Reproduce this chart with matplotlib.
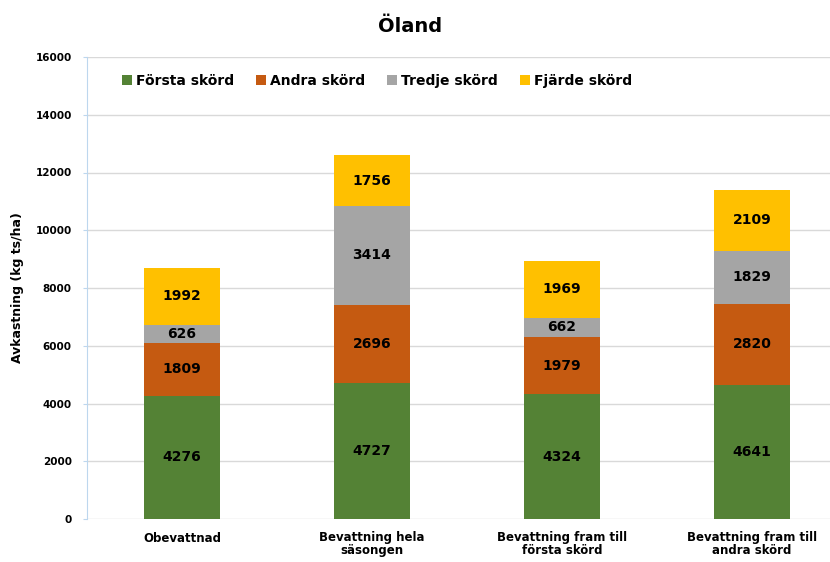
import matplotlib.pyplot as plt
import numpy as np

categories = ["Obevattnad", "Bevattning hela\nsäsongen",
              "Bevattning fram till\nförsta skörd", "Bevattning fram till\nandra skörd"]
series_names = ["Första skörd", "Andra skörd", "Tredje skörd", "Fjärde skörd"]
forsta = [4276, 4727, 4324, 4641]
andra = [1809, 2696, 1979, 2820]
tredje = [626, 3414, 662, 1829]
fjarde = [1992, 1756, 1969, 2109]
colors = ["#548235", "#c55a11", "#a5a5a5", "#ffc000"]
yticks = list(range(0, 16001, 2000))

plt.rcParams['font.family'] = ['DejaVu Sans']
fig = plt.figure(figsize=(8.3, 5.62), dpi=100)
ax = fig.add_axes([87 / 830, 43 / 562, 743 / 830, 462 / 562])

x = np.arange(len(categories))
bottom = np.zeros(len(categories))
for name, vals, col in zip(series_names, [forsta, andra, tredje, fjarde], colors):
    ax.bar(x, vals, width=0.4, bottom=bottom, color=col, label=name, zorder=2)
    for xi, b, v in zip(x, bottom, vals):
        ax.text(xi, b + v / 2, str(v), ha='center', va='center',
                fontsize=10, fontweight='bold', color='black', zorder=3)
    bottom += np.array(vals)

ax.set_xlim(-0.5, 3.41)
ax.set_ylim(0, 16000)
ax.set_yticks(yticks)
ax.set_yticklabels([str(t) for t in yticks], fontsize=7.5, fontweight='bold')
ax.set_xticks(x)
ax.set_xticklabels(categories, fontsize=8.5, fontweight='bold', linespacing=0.95)
ax.tick_params(axis='x', length=0, pad=9)
ax.tick_params(axis='y', length=3, color='#bdd7ee', pad=8)
ax.yaxis.grid(True, color='#d9d9d9', linewidth=1, zorder=0)
for s in ['top', 'right', 'bottom']:
    ax.spines[s].set_visible(False)
ax.spines['left'].set_color('#bdd7ee')
ax.set_ylabel("Avkastning (kg ts/ha)", fontsize=9, fontweight='bold', labelpad=8)

fig.text(410 / 830, 1 - 27 / 562, "Öland", ha='center', va='center',
         fontsize=14, fontweight='bold')
ax.legend(loc='upper left', bbox_to_anchor=(0.03, 0.99), ncol=4, frameon=False,
          prop={'weight': 'bold', 'size': 10}, handlelength=0.7, handleheight=0.7,
          handletextpad=0.3, columnspacing=1.6)

fig.savefig("out.png", dpi=100)
